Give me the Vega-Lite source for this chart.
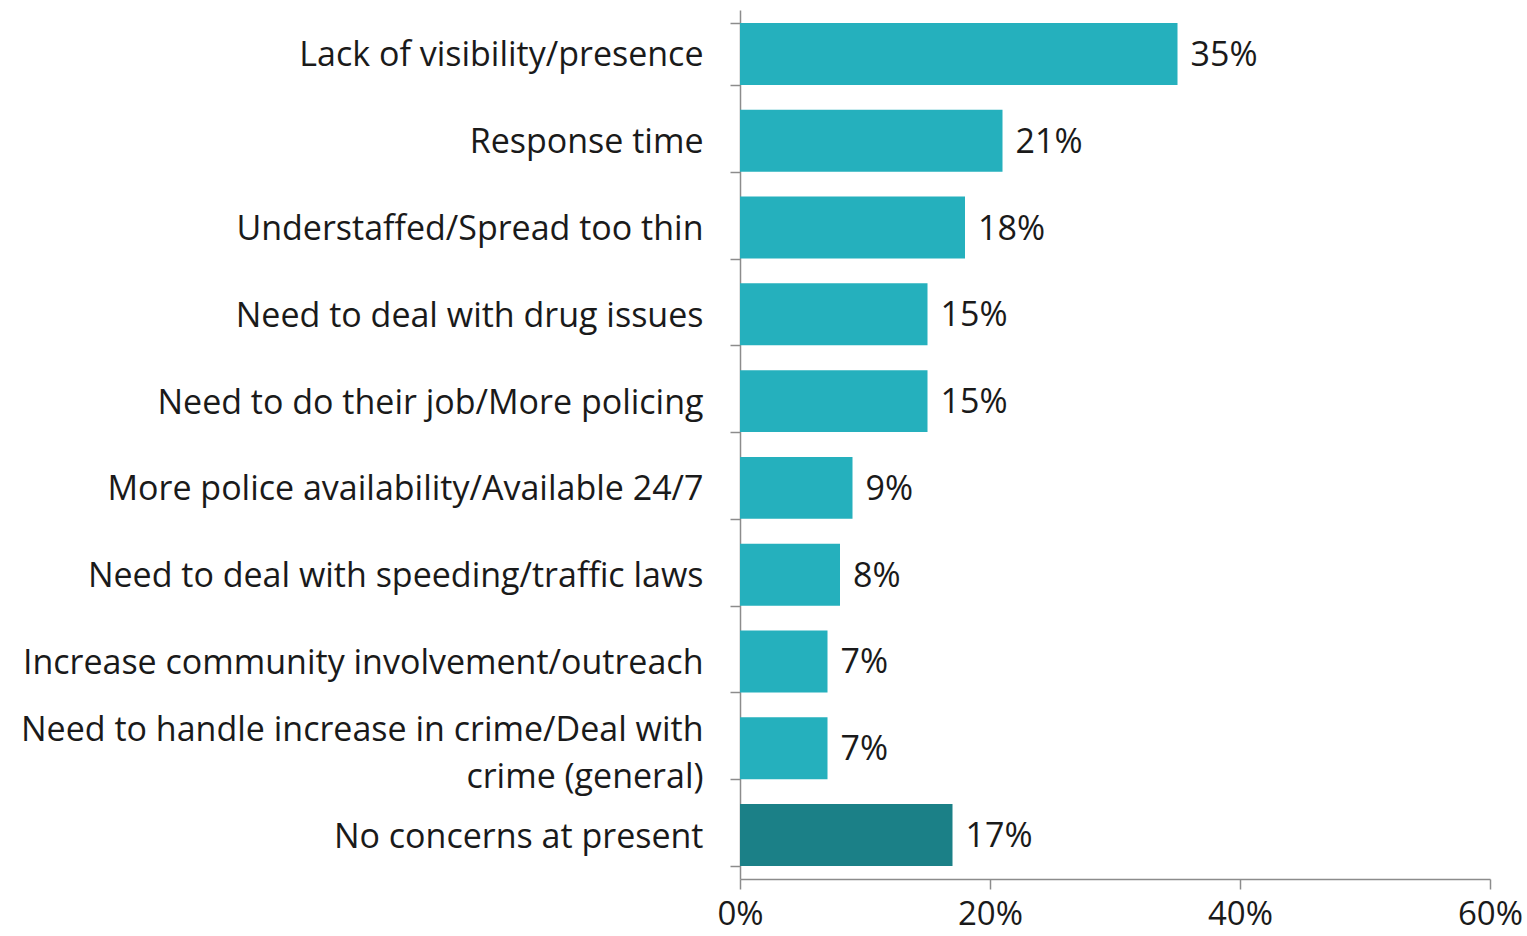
{
  "$schema": "https://vega.github.io/schema/vega-lite/v6.json",
  "width": 750,
  "height": 869,
  "autosize": {"type": "none"},
  "padding": {"left": 740, "top": 10, "right": 37, "bottom": 57},
  "background": "white",
  "config": {"view": {"stroke": null}, "font": "Open Sans"},
  "data": {
    "values": [
      {"concern": "Lack of visibility/presence", "pct": 0.35, "type": "concern"},
      {"concern": "Response time", "pct": 0.21, "type": "concern"},
      {"concern": "Understaffed/Spread too thin", "pct": 0.18, "type": "concern"},
      {"concern": "Need to deal with drug issues", "pct": 0.15, "type": "concern"},
      {"concern": "Need to do their job/More policing", "pct": 0.15, "type": "concern"},
      {"concern": "More police availability/Available 24/7", "pct": 0.09, "type": "concern"},
      {"concern": "Need to deal with speeding/traffic laws", "pct": 0.08, "type": "concern"},
      {"concern": "Increase community involvement/outreach", "pct": 0.07, "type": "concern"},
      {"concern": "Need to handle increase in crime/Deal with|crime (general)", "pct": 0.07, "type": "concern"},
      {"concern": "No concerns at present", "pct": 0.17, "type": "none"}
    ]
  },
  "encoding": {
    "y": {
      "field": "concern",
      "type": "nominal",
      "sort": null,
      "scale": {"paddingInner": 0.286, "paddingOuter": 0.15},
      "axis": {
        "title": null,
        "labelExpr": "datum.value ? split(datum.value, '|') : ''",
        "labelFontSize": 34,
        "labelColor": "#1a1a1a",
        "labelLineHeight": 47,
        "labelBaseline": "middle",
        "labelOffset": {"condition": {"test": "datum.value && indexof(datum.value, '|') >= 0", "value": -18}, "value": 2},
        "labelPadding": 27,
        "labelLimit": 800,
        "tickBand": "extent",
        "tickSize": 10,
        "tickColor": "#8c8c8c",
        "domainColor": "#8c8c8c",
        "tickWidth": 1.5,
        "domainWidth": 1.5
      }
    },
    "x": {
      "field": "pct",
      "type": "quantitative",
      "scale": {"domain": [0, 0.6]},
      "axis": {
        "title": null,
        "values": [0, 0.2, 0.4, 0.6],
        "format": ".0%",
        "labelFontSize": 33,
        "labelColor": "#1a1a1a",
        "labelPadding": 9,
        "tickSize": 10,
        "tickColor": "#8c8c8c",
        "domainColor": "#8c8c8c",
        "tickWidth": 1.5,
        "domainWidth": 1.5,
        "grid": false,
        "labelFlush": false
      }
    }
  },
  "layer": [
    {
      "mark": {"type": "bar"},
      "encoding": {
        "color": {
          "field": "type",
          "type": "nominal",
          "scale": {"domain": ["concern", "none"], "range": ["#25B0BD", "#1B8087"]},
          "legend": null
        }
      }
    },
    {
      "mark": {"type": "text", "align": "left", "dx": 13, "dy": 2, "fontSize": 34, "color": "#1a1a1a", "baseline": "middle"},
      "encoding": {
        "text": {"field": "pct", "type": "quantitative", "format": ".0%"}
      }
    }
  ]
}
